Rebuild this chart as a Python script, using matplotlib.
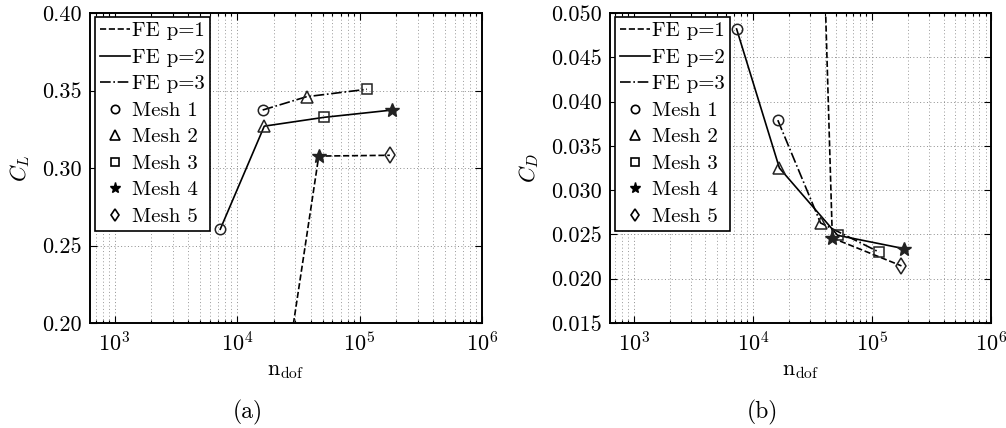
import matplotlib
matplotlib.use("Agg")
import matplotlib.pyplot as plt
from matplotlib.lines import Line2D
from matplotlib.ticker import FixedLocator, FormatStrFormatter, LogLocator, NullFormatter

plt.rcParams['font.family'] = ['cmr10', 'DejaVu Serif']
plt.rcParams['mathtext.fontset'] = 'cm'
plt.rcParams['axes.formatter.use_mathtext'] = True

# FE p=1 (coarsest point lies off the chart)
mesh_p1 = [3, 4, 5]
ndof_p1 = [1.2e4, 4.65e4, 1.77e5]
cl_p1 = [0.0, 0.3077, 0.3082]
cd_p1 = [0.29, 0.0246, 0.02145]

# FE p=2
mesh_p2 = [1, 2, 3, 4]
ndof_p2 = [7.3e3, 1.67e4, 5.15e4, 1.85e5]
cl_p2 = [0.2605, 0.327, 0.3327, 0.3374]
cd_p2 = [0.0482, 0.0325, 0.0249, 0.0234]

# FE p=3
mesh_p3 = [1, 2, 3]
ndof_p3 = [1.62e4, 3.7e4, 1.15e5]
cl_p3 = [0.3374, 0.346, 0.3508]
cd_p3 = [0.0379, 0.0263, 0.0230]

mesh_markers = {1: 'o', 2: '^', 3: 's', 4: '*', 5: 'd'}
mesh_sizes = {1: 7.5, 2: 8, 3: 6.5, 4: 10, 5: 8}

series = [
    ("FE p=1", '--', mesh_p1, ndof_p1, cl_p1, cd_p1),
    ("FE p=2", '-', mesh_p2, ndof_p2, cl_p2, cd_p2),
    ("FE p=3", '-.', mesh_p3, ndof_p3, cl_p3, cd_p3),
]

fig = plt.figure(figsize=(10.06, 4.28), dpi=100)
H = 428.0
W = 1006.0
ax1 = fig.add_axes([90 / W, (H - 323) / H, 392 / W, 310 / H])
ax2 = fig.add_axes([610 / W, (H - 323) / H, 381 / W, 310 / H])

FS = 16
LFS = 15


def draw(ax, which):
    for name, ls, meshes, xs, cl, cd in series:
        ys = cl if which == 'cl' else cd
        ax.plot(xs, ys, ls=ls, color='k', lw=1.2, zorder=3)
        for m, x, y in zip(meshes, xs, ys):
            if m == 4:
                ax.plot([x], [y], marker='*', ms=mesh_sizes[m], color='#222222',
                        mec='#222222', ls='none', zorder=4)
            else:
                ax.plot([x], [y], marker=mesh_markers[m], ms=mesh_sizes[m], mfc='none',
                        mec='#222222', mew=1.1, ls='none', zorder=4)

    ax.set_xscale('log')
    ax.set_xlim(10 ** 2.8, 1e6)
    ax.xaxis.set_major_locator(LogLocator(base=10, numticks=10))
    ax.xaxis.set_minor_locator(LogLocator(base=10, subs=range(2, 10), numticks=20))
    ax.xaxis.set_minor_formatter(NullFormatter())
    ax.grid(True, which='major', color='0.55', lw=0.7, ls=(0, (1, 2.5)))
    ax.grid(True, which='minor', axis='x', color='0.6', lw=0.7, ls=(0, (1, 2.5)))
    ax.tick_params(which='both', direction='in', top=True, right=True,
                   labelsize=FS, width=0.8)
    ax.tick_params(which='major', length=5, pad=6)
    ax.tick_params(which='minor', length=2.5)
    for s in ax.spines.values():
        s.set_linewidth(1.4)
    ax.set_xlabel(r'$\mathrm{n}_{\mathrm{dof}}$', fontsize=FS, labelpad=4)

    handles = [
        Line2D([], [], ls='--', color='k', lw=1.2, label='FE p=1'),
        Line2D([], [], ls='-', color='k', lw=1.2, label='FE p=2'),
        Line2D([], [], ls='-.', color='k', lw=1.2, label='FE p=3'),
        Line2D([], [], ls='none', marker='o', ms=6, mfc='none', mec='k', mew=1.2, label='Mesh 1'),
        Line2D([], [], ls='none', marker='^', ms=6.5, mfc='none', mec='k', mew=1.2, label='Mesh 2'),
        Line2D([], [], ls='none', marker='s', ms=5.5, mfc='none', mec='k', mew=1.2, label='Mesh 3'),
        Line2D([], [], ls='none', marker='*', ms=8, color='k', label='Mesh 4'),
        Line2D([], [], ls='none', marker='d', ms=6.5, mfc='none', mec='k', mew=1.2, label='Mesh 5'),
    ]
    leg = ax.legend(handles=handles, loc='upper left', fontsize=LFS,
                    bbox_to_anchor=(4.5 / ax.bbox.width, 1 - 3.5 / 310),
                    borderaxespad=0, fancybox=False, framealpha=1, edgecolor='k',
                    handlelength=1.45, handletextpad=0.12, borderpad=0.25,
                    labelspacing=0.38)
    leg.get_frame().set_linewidth(1.2)
    leg.set_zorder(10)


draw(ax1, 'cl')
ax1.set_ylim(0.20, 0.40)
ax1.yaxis.set_major_locator(FixedLocator([0.20, 0.25, 0.30, 0.35, 0.40]))
ax1.yaxis.set_major_formatter(FormatStrFormatter('%.2f'))
ax1.set_ylabel(r'$C_L$', fontsize=FS, labelpad=7)

draw(ax2, 'cd')
ax2.set_ylim(0.015, 0.050)
ax2.yaxis.set_major_locator(FixedLocator([0.015, 0.020, 0.025, 0.030, 0.035, 0.040, 0.045, 0.050]))
ax2.yaxis.set_major_formatter(FormatStrFormatter('%.3f'))
ax2.set_ylabel(r'$C_D$', fontsize=FS, labelpad=7)

fig.text(248 / W, 1 - 412 / H, '(a)', ha='center', va='center', fontsize=FS + 1)
fig.text(762 / W, 1 - 412 / H, '(b)', ha='center', va='center', fontsize=FS + 1)

fig.savefig('out.png', dpi=100)
